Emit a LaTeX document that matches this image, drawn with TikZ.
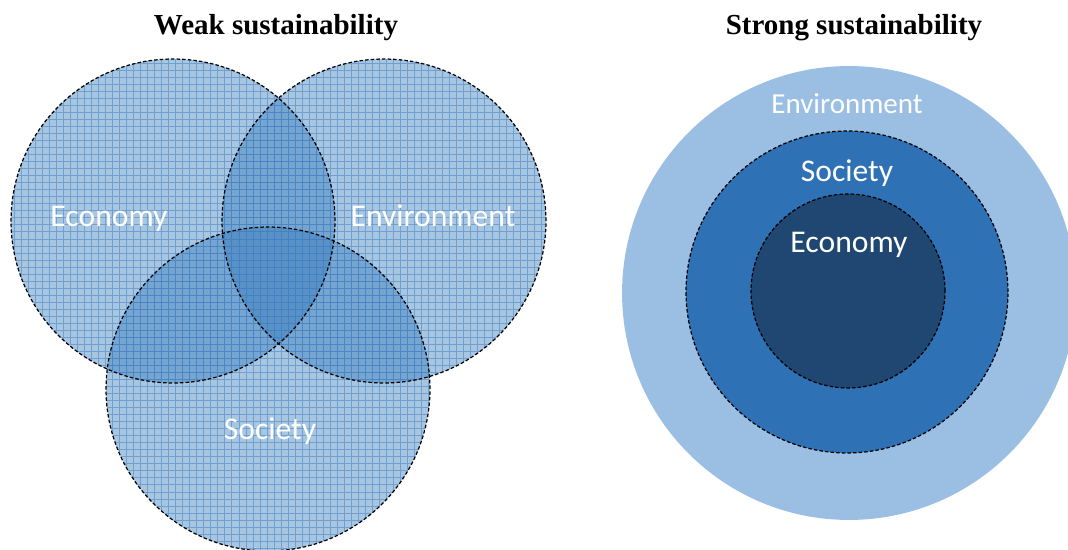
\documentclass[tikz,border=0pt]{standalone}
\usepackage{fontspec}
\setmainfont{Carlito}
\newfontfamily\titlefont{Liberation Serif}

\definecolor{lightblue}{HTML}{9BBFE3}
\definecolor{midblue}{HTML}{2F71B5}
\definecolor{darkblue}{HTML}{1F4771}
\definecolor{vennblue}{HTML}{2E75B6}
\definecolor{gridblue}{HTML}{3F80C8}

\tikzset{venn/.style = {circle, inner sep = 0pt, minimum size = #1,
                        fill = vennblue, fill opacity = .41},
         venn/.default = 6.48cm,
         mesh/.style = {gridblue, line width = .5pt, opacity = .55, step = 4pt},
         ring/.style = {circle, inner sep = 0pt, minimum size = #1},
         rim/.style = {draw, dash pattern = on 2pt off 1.2pt, line width = .7pt},
         tag/.style = {text = white, font = \fontsize{18}{20}\selectfont},
         heading/.style = {font = \titlefont\bfseries\fontsize{16.5}{19}\selectfont}
        }

\begin{document}
\begin{tikzpicture}[x = 0.02cm, y = -0.02cm]
  \path[use as bounding box, clip] (0,0) rectangle (1068,550);

  % weak: three overlapping circles
  \node[heading] (weak) at (276,28) {Weak sustainability};
  \node[venn] (eco) at (173,221) {};
  \node[venn] (env) at (384,221) {};
  \node[venn] (soc) at (268,389) {};
  \foreach \c in {eco, env, soc} {
    \begin{scope}
      \clip (\c.center) circle [radius = 3.24cm];
      \draw[mesh] ([xshift = -3.4cm, yshift = -3.4cm]\c.center)
                  grid ([xshift = 3.4cm, yshift = 3.4cm]\c.center);
    \end{scope}
  }
  \foreach \c in {eco, env, soc}
    \draw[rim] (\c.center) circle [radius = 3.24cm];
  \node[tag] (eco-txt) at (109,219) {Economy};
  \node[tag] (env-txt) at (433,216) {Environment};
  \node[tag] (soc-txt) at (270,431) {Society};

  % strong: nested circles
  \node[heading] (strong) at (854,28) {Strong sustainability};
  \node[ring = 9.08cm, fill = lightblue] (world) at (849,293) {};
  \node[ring = 6.44cm, fill = midblue, rim] (social) at (847,292) {};
  \node[ring = 3.88cm, fill = darkblue, rim] (money) at (848,291) {};
  \node[tag, font = \fontsize{16.5}{18}\selectfont] (world-txt) at (847,104) {Environment};
  \node[tag] (social-txt) at (847,173) {Society};
  \node[tag] (money-txt) at (849,245) {Economy};
\end{tikzpicture}
\end{document}
